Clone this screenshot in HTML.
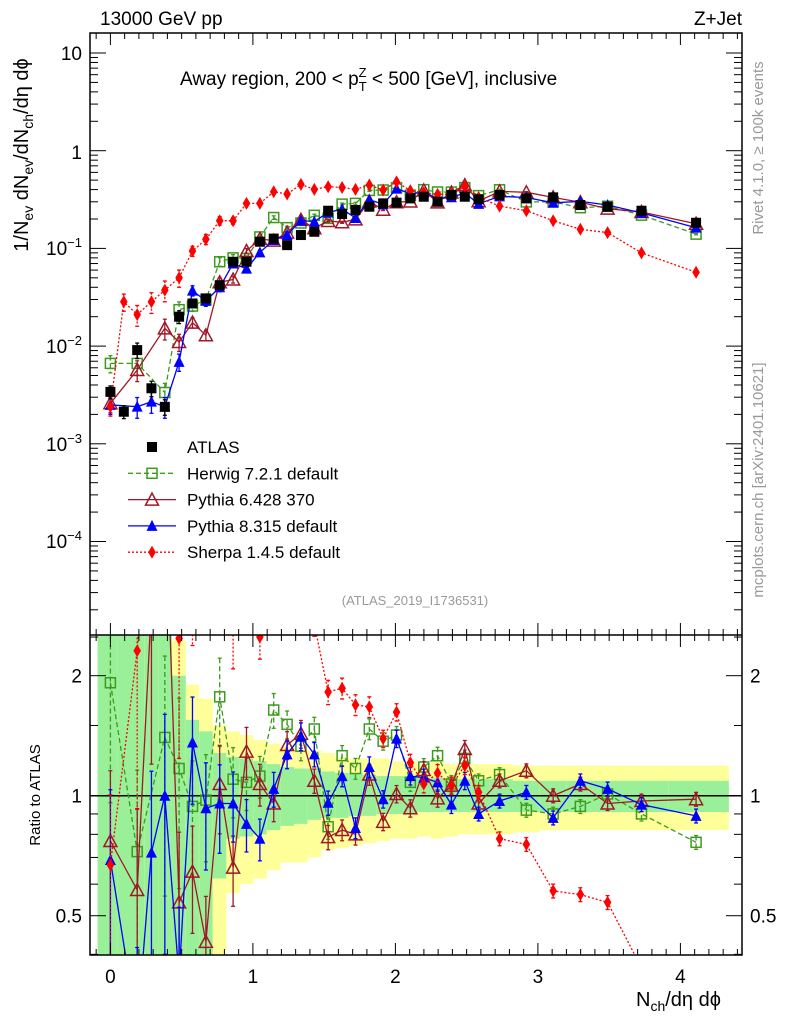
<!DOCTYPE html>
<html><head><meta charset="utf-8"><style>
html,body{margin:0;background:#fff;overflow:hidden;width:786px;height:1024px}
svg{display:block;font-family:"Liberation Sans",sans-serif;overflow:hidden}
</style></head><body>
<svg id="c" width="786" height="1024" viewBox="0 0 786 1024"></svg>
<script>
const xs=[0,0.094,0.188,0.288,0.382,0.482,0.576,0.670,0.767,0.861,0.955,1.049,1.146,1.240,1.337,1.431,1.528,1.626,1.720,1.817,1.914,2.008,2.105,2.199,2.296,2.393,2.487,2.584,2.731,2.919,3.107,3.298,3.489,3.727,4.11];
const atlas=[0.0034,0.00213,0.0091,0.0037,0.00239,0.020,0.0273,0.0308,0.042,0.073,0.073,0.117,0.126,0.108,0.137,0.148,0.243,0.225,0.247,0.267,0.289,0.294,0.325,0.338,0.300,0.352,0.338,0.318,0.352,0.325,0.333,0.278,0.267,0.243,0.183];
const herwig=[0.00665,null,0.00665,null,0.00335,0.0236,0.0257,0.030,0.073,0.080,0.079,0.131,0.207,0.163,0.182,0.218,0.203,0.284,0.289,0.392,0.396,0.417,0.351,0.399,0.378,0.377,0.419,0.347,0.398,0.299,0.30,0.261,0.270,0.219,0.140];
const py6=[0.0026,null,0.0057,null,0.0152,0.011,0.0174,0.0129,0.045,0.048,0.094,0.125,0.120,0.145,0.196,0.161,0.191,0.185,0.198,0.302,0.249,0.297,0.302,0.392,0.296,0.373,0.443,0.304,0.384,0.375,0.333,0.297,0.255,0.236,0.179];
const py8=[0.0025,null,0.0024,0.0027,0.0024,0.0069,0.037,0.029,0.040,0.070,0.062,0.091,0.122,0.137,0.193,0.188,0.233,0.252,0.205,0.315,0.283,0.409,0.364,0.375,0.324,0.334,0.368,0.286,0.341,0.332,0.293,0.303,0.278,0.231,0.163];
const sherpa=[0.0024,0.0284,0.021,0.0284,0.0374,0.050,0.094,0.124,0.192,0.192,0.289,0.289,0.38,0.36,0.452,0.402,0.428,0.42,0.402,0.445,0.396,0.48,0.39,0.371,0.357,0.36,0.428,0.333,0.271,0.243,0.192,0.157,0.145,0.090,0.057];
const rHerwig=[1.92,null,0.724,null,1.40,1.17,0.94,0.975,1.77,1.10,1.08,1.12,1.64,1.51,1.33,1.47,0.836,1.26,1.17,1.47,1.37,1.42,1.08,1.18,1.26,1.07,1.24,1.09,1.13,0.92,0.90,0.94,1.01,0.90,0.764];
const rPy6=[0.77,null,0.58,3.0,6.4,0.54,0.645,0.43,1.07,0.66,1.29,1.07,0.956,1.34,1.43,1.09,0.787,0.82,0.80,1.13,0.86,1.01,0.93,1.16,0.985,1.06,1.31,0.956,1.09,1.155,1.00,1.07,0.956,0.97,0.98];
const rPy8=[0.69,null,0.26,0.72,1.0,0.35,1.36,0.93,0.956,0.956,0.85,0.78,1.04,1.27,1.41,1.27,0.96,1.12,0.83,1.18,0.98,1.39,1.12,1.11,1.08,0.95,1.09,0.90,0.97,1.02,0.88,1.09,1.04,0.95,0.89];
const rSherpa=[0.67,null,2.31,7.7,15,2.48,3.4,4,4.6,2.6,4,2.5,3,3.3,3.3,2.7,1.82,1.86,1.69,1.67,1.39,1.62,1.21,1.07,1.14,1.06,1.19,1.02,0.78,0.755,0.577,0.565,0.54,0.37,0.31];
const relErr=[0.5,0.5,0.6,0.6,0.6,0.5,0.3,0.3,0.25,0.2,0.15,0.12,0.1,0.08,0.08,0.07,0.07,0.06,0.06,0.06,0.05,0.05,0.05,0.05,0.05,0.05,0.05,0.04,0.04,0.04,0.04,0.04,0.04,0.04,0.04];
const yUp=[3,3,3,3,3,2.45,1.9,1.75,1.5,1.45,1.42,1.38,1.35,1.33,1.3,1.3,1.28,1.25,1.24,1.24,1.24,1.22,1.22,1.2,1.22,1.2,1.2,1.2,1.2,1.19,1.19,1.19,1.19,1.19,1.19];
const yDn=[0.3,0.3,0.3,0.3,0.3,0.3,0.3,0.3,0.3,0.57,0.6,0.62,0.65,0.68,0.68,0.7,0.73,0.74,0.75,0.76,0.77,0.78,0.78,0.79,0.78,0.79,0.8,0.8,0.8,0.81,0.82,0.82,0.82,0.82,0.82];
const gUp=[3,3,3,3,3,2.0,1.55,1.45,1.28,1.25,1.24,1.22,1.2,1.18,1.17,1.17,1.15,1.14,1.14,1.13,1.12,1.12,1.12,1.11,1.11,1.11,1.1,1.1,1.1,1.09,1.09,1.09,1.09,1.09,1.09];
const gDn=[0.3,0.3,0.3,0.3,0.3,0.3,0.3,0.3,0.62,0.78,0.79,0.8,0.82,0.84,0.85,0.87,0.88,0.88,0.89,0.89,0.9,0.9,0.9,0.91,0.91,0.91,0.91,0.91,0.91,0.91,0.91,0.91,0.91,0.91,0.91];
const xTicks=[0,1,2,3,4];

const NS='http://www.w3.org/2000/svg';
const svg=document.getElementById('c');
const L=90,R=742,T=33,MID=635,B=955;
const X=v=>110.4+142.5*v;
const Ym=v=>150.7-97.7*Math.log10(v);
const Yr=v=>795.7-398.7*Math.log10(v);
function el(tag,attrs,parent){const e=document.createElementNS(NS,tag);for(const k in attrs)e.setAttribute(k,attrs[k]);(parent||svg).appendChild(e);return e;}
function clip(id,y0,y1){const c=el('clipPath',{id:id});el('rect',{x:L,y:y0,width:R-L,height:y1-y0},c);}
clip('cm',T,MID);clip('cr',MID,B);

const gb=el('g',{'clip-path':'url(#cr)'});


for(let i=0;i<xs.length;i++){
  const x0=i==0?xs[0]-0.09:(xs[i-1]+xs[i])/2;
  const x1=i==xs.length-1?4.34:(xs[i]+xs[i+1])/2;
  const ry=el('rect',{x:X(x0),y:Yr(yUp[i]),width:X(x1)-X(x0),height:Yr(yDn[i])-Yr(yUp[i]),fill:'#ffff99'},gb);
  
  
  const rg=el('rect',{x:X(x0),y:Yr(gUp[i]),width:X(x1)-X(x0),height:Yr(gDn[i])-Yr(gUp[i]),fill:'#99f099'},gb);
  
  
}
el('line',{x1:L,x2:R,y1:Yr(1),y2:Yr(1),stroke:'#000','stroke-width':1.5});

function marker(g,type,x,y,col){
  if(type=='sq') return el('rect',{x:x-5,y:y-5,width:10,height:10,fill:col},g);
  if(type=='osq') return el('rect',{x:x-5,y:y-5,width:10,height:10,fill:'none',stroke:col,'stroke-width':1.5},g);
  if(type=='otri') return el('path',{d:`M${x},${y-6.5}L${x+6.5},${y+5.5}L${x-6.5},${y+5.5}Z`,fill:'none',stroke:col,'stroke-width':1.5},g);
  if(type=='tri') return el('path',{d:`M${x},${y-6}L${x+5.5},${y+5}L${x-5.5},${y+5}Z`,fill:col},g);
  if(type=='dia') return el('path',{d:`M${x},${y-6.5}L${x+3.8},${y}L${x},${y+6.5}L${x-3.8},${y}Z`,fill:col},g);
}
function series(name,vals,Y,cp,type,col,dash,line,errMul){
  const g=el('g',{'clip-path':'url(#'+cp+')'});
  
  
  let d='';
  vals.forEach((v,i)=>{if(v==null)return;d+=(d?'L':'M')+X(xs[i]).toFixed(1)+','+Y(v).toFixed(1);});
  if(line) el('path',{d:d,fill:'none',stroke:col,'stroke-width':1.3,'stroke-dasharray':dash},g);
  vals.forEach((v,i)=>{
    if(v==null)return;
    const x=X(xs[i]);const e=relErr[i]*errMul;
    const yt=Y(v*(1+e)),yb=Y(Math.max(v*(1-e),1e-7));
    el('line',{x1:x,x2:x,y1:yt,y2:yb,stroke:col,'stroke-width':1.3,'stroke-dasharray':dash},g);
    el('line',{x1:x-2,x2:x+2,y1:yt,y2:yt,stroke:col,'stroke-width':1.3},g);
    el('line',{x1:x-2,x2:x+2,y1:yb,y2:yb,stroke:col,'stroke-width':1.3},g);
    const m=marker(g,type,x,Y(v),col);
    
    
  });
}
const GR='#3c9a1e',DR='#a01828',BL='#0000ff',RD='#ff0000';
series('herwig-main',herwig,Ym,'cm','osq',GR,'5,3',true,0.4);
series('pythia6-main',py6,Ym,'cm','otri',DR,'',true,0.4);
series('pythia8-main',py8,Ym,'cm','tri',BL,'',true,0.4);
series('sherpa-main',sherpa,Ym,'cm','dia',RD,'2,2',true,0.4);
series('atlas-data',atlas,Ym,'cm','sq','#000','',false,0.3);
series('herwig-ratio',rHerwig,Yr,'cr','osq',GR,'5,3',true,1);
series('pythia6-ratio',rPy6,Yr,'cr','otri',DR,'',true,1);
series('pythia8-ratio',rPy8,Yr,'cr','tri',BL,'',true,1);
series('sherpa-ratio',rSherpa,Yr,'cr','dia',RD,'2,2',true,1);

el('rect',{x:L,y:T,width:R-L,height:B-T,fill:'none',stroke:'#000','stroke-width':1.5});
el('line',{x1:L,x2:R,y1:MID,y2:MID,stroke:'#000','stroke-width':1.5});

function txt(s,x,y,size,anchor,fill,name,extra){
  const t=el('text',Object.assign({x:x,y:y,'font-size':size,'text-anchor':anchor||'start',fill:fill||'#000'},extra||{}));
  t.textContent=s;
  
  
  return t;
}
for(let v=-0.1;v<=4.41;v+=0.1){
  const x=X(Math.round(v*10)/10);if(x<L||x>R)continue;
  const major=Math.abs(v-Math.round(v))<1e-6;const h=major?12:6;
  [[T,T+h],[MID,MID-h],[MID,MID+h],[B,B-h]].forEach(p=>el('line',{x1:x,x2:x,y1:p[0],y2:p[1],stroke:'#000','stroke-width':1}));
}
xTicks.forEach(v=>txt(String(v),X(v),983,19,'middle','#000','x-tick-label'));
for(let e=-5;e<=1;e++){
  for(let m=1;m<10;m++){
    const y=Ym(m*Math.pow(10,e));if(y<T||y>MID)continue;
    const w=m==1?16:8;
    el('line',{x1:L,x2:L+w,y1:y,y2:y,stroke:'#000'});el('line',{x1:R,x2:R-w,y1:y,y2:y,stroke:'#000'});
  }
}
txt('10',82,60,19,'end','#000','y-tick-10');
txt('1',82,159,19,'end','#000','y-tick-1');
[[-1,255],[-2,353],[-3,451],[-4,548]].forEach(p=>{
  const t=txt('10',82,p[1],19,'end','#000','y-tick-label');
  const s=el('tspan',{dy:-8,'font-size':13},t);s.textContent='−'+(-p[0]);
});
[0.4,0.5,0.6,0.7,0.8,0.9,1,1.5,2,2.5].forEach(v=>{
  const y=Yr(v);if(y<MID||y>B)return;const w=(v==0.5||v==1||v==2)?16:8;
  el('line',{x1:L,x2:L+w,y1:y,y2:y,stroke:'#000'});el('line',{x1:R,x2:R-w,y1:y,y2:y,stroke:'#000'});
});
[[2,'2'],[1,'1'],[0.5,'0.5']].forEach(p=>{txt(p[1],82,Yr(p[0])+7,19,'end','#000','ratio-tick-left');txt(p[1],750,Yr(p[0])+7,19,'start','#000','ratio-tick-right');});

txt('13000 GeV pp',100,25,19,'start','#000','energy-label');
txt('Z+Jet',742,25,19,'end','#000','process-label');
const ti=txt('Away region, 200 < p',180,85,19,'start','#000','plot-title');
let s1=el('tspan',{dy:6,'font-size':13},ti);s1.textContent='T';
let s2=el('tspan',{dx:-8,dy:-14,'font-size':13},ti);s2.textContent='Z';
let s3=el('tspan',{dy:8},ti);s3.textContent=' < 500 [GeV], inclusive';
const yl=txt('1/N',0,0,20,'middle','#000','y-axis-title',{transform:'translate(28,155) rotate(-90)'});
[['ev',5],[' dN',-5],['ev',5],['/dN',-5],['ch',5],['/dη dϕ',-5]].forEach(p=>{const s=el('tspan',{dy:p[1],'font-size':p[1]>0?14:20},yl);s.textContent=p[0];});
txt('Ratio to ATLAS',0,0,15,'middle','#000','ratio-axis-title',{transform:'translate(40,795) rotate(-90)'});
const xl=txt('N',636,1006,20,'start','#000','x-axis-title');
let a=el('tspan',{dy:5,'font-size':14},xl);a.textContent='ch';
let b=el('tspan',{dy:-5},xl);b.textContent='/dη dϕ';
txt('Rivet 4.1.0, ≥ 100k events',0,0,15,'middle','#999','rivet-label',{transform:'translate(763,148) rotate(-90)'});
txt('mcplots.cern.ch [arXiv:2401.10621]',0,0,15,'middle','#999','mcplots-label',{transform:'translate(763,480) rotate(-90)'});
txt('(ATLAS_2019_I1736531)',415,605,13,'middle','#999','analysis-id');

const lg=el('g',{});


const items=[['ATLAS','sq','#000',null],['Herwig 7.2.1 default','osq',GR,'5,3'],['Pythia 6.428 370','otri',DR,''],['Pythia 8.315 default','tri',BL,''],['Sherpa 1.4.5 default','dia',RD,'2,2']];
items.forEach((it,i)=>{
  const y=447+i*26.3;
  const g=el('g',{},lg);
  
  
  if(it[3]!==null) el('line',{x1:128,x2:176,y1:y,y2:y,stroke:it[2],'stroke-width':1.3,'stroke-dasharray':it[3]},g);
  marker(g,it[1],152,y,it[2]);
  const t=el('text',{x:187,y:y+6,'font-size':17,fill:'#000'},g);
  t.textContent=it[0];
  
  
});
</script>
</body></html>
